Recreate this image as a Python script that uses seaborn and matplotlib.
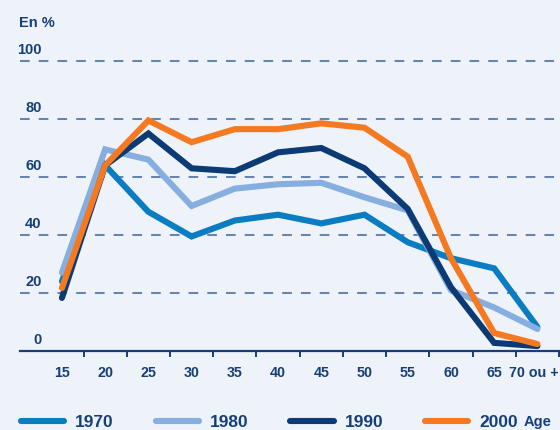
import numpy as np
import pandas as pd
import matplotlib.pyplot as plt
import matplotlib.transforms as mtransforms
from matplotlib.lines import Line2D
import seaborn as sns

sns.set_theme(style="white")
plt.rcParams['font.family'] = ['Liberation Sans', 'DejaVu Sans']

ages = ['15', '20', '25', '30', '35', '40', '45', '50', '55', '60', '65', '70 ou +']
years = ['1970', '1980', '1990', '2000']
v1970 = [24, 64, 48, 39.5, 45, 47, 44, 47, 37.5, 32, 28.5, 8.3]
v1980 = [27, 69.5, 66, 50, 56, 57.5, 58, 53, 48.5, 21, 15, 7.6]
v1990 = [18.3, 64, 75, 63, 62, 68.5, 70, 63, 49, 22, 2.8, 1.7]
v2000 = [21.7, 64, 79.5, 72, 76.5, 76.5, 78.5, 77, 67, 32, 6.2, 2.4]
yticks = [0, 20, 40, 60, 80, 100]

colors = ['#0a7dc2', '#86aede', '#0c3a74', '#f47920']
navy = '#163f7a'
bg = '#eef2f9'

df = pd.DataFrame({
    'pos': list(range(len(ages))) * 4,
    'value': v1970 + v1980 + v1990 + v2000,
    'year': np.repeat(years, len(ages)),
})

fig = plt.figure(figsize=(5.6, 4.3), dpi=100, facecolor=bg)
ax = fig.add_axes([20 / 560, 79 / 430, 539 / 560, 304.5 / 430])
ax.set_facecolor('none')

sns.lineplot(data=df, x='pos', y='value', hue='year', palette=colors,
             linewidth=4.4, legend=False, ax=ax, zorder=3)
for ln in ax.lines:
    ln.set_solid_capstyle('round')
    ln.set_solid_joinstyle('miter')
    ln.set_clip_on(False)

ax.set_xlim(-0.97, 11.5)
ax.set_ylim(0, 105)
ax.set_xlabel('')
ax.set_ylabel('')

# x axis
ax.set_xticks(range(len(ages)))
ax.set_xticklabels(ages, fontsize=10.3, fontweight='bold', color=navy)
ax.set_xticks(list(np.arange(0.5, 11, 1.0)) + [11.5], minor=True)
ax.tick_params(axis='x', which='major', length=0, pad=11)
ax.tick_params(axis='x', which='minor', length=4.3, width=1.4,
               color=navy, direction='out', bottom=True)
# keep the last label inside the picture
last = ax.get_xticklabels()[-1]
last.set_transform(last.get_transform() +
                   mtransforms.ScaledTranslation(-4 / 100, 0, fig.dpi_scale_trans))

# y axis: dashed grid, labels above lines
ax.set_yticks(yticks[1:])
ax.tick_params(axis='y', length=0, labelleft=False)
ax.yaxis.grid(True, linestyle=(0, (4.8, 4.5)), linewidth=1.45, color='#6585b0')
ax.xaxis.grid(False)

for s in ['top', 'right', 'left']:
    ax.spines[s].set_visible(False)
ax.spines['bottom'].set_color(navy)
ax.spines['bottom'].set_linewidth(1.6)

trans = mtransforms.offset_copy(
    mtransforms.blended_transform_factory(ax.transAxes, ax.transData),
    fig=fig, x=0, y=5, units='points')
for v in yticks:
    ax.text(0.04, v, str(v), transform=trans, ha='right', va='baseline',
            fontsize=10.5, fontweight='bold', color=navy)

fig.text(19 / 560, 1 - 27 / 430, 'En %', ha='left', va='baseline',
         fontsize=10.5, fontweight='bold', color=navy)

# legend
handles = [Line2D([], [], color=c, linewidth=4.4, solid_capstyle='round')
           for c in colors]
fig.legend(handles, years, loc='center left', bbox_to_anchor=(21 / 560, 8 / 430),
           ncol=4, frameon=False, borderpad=0, borderaxespad=0,
           handlelength=2.5, handletextpad=0.63, columnspacing=2.4,
           prop={'size': 12.5, 'weight': 'bold'}, labelcolor=navy)
fig.text(524 / 560, 8 / 430, 'Age', ha='left', va='center',
         fontsize=10.5, fontweight='bold', color=navy)

fig.savefig('out.png', dpi=100, facecolor=bg)
